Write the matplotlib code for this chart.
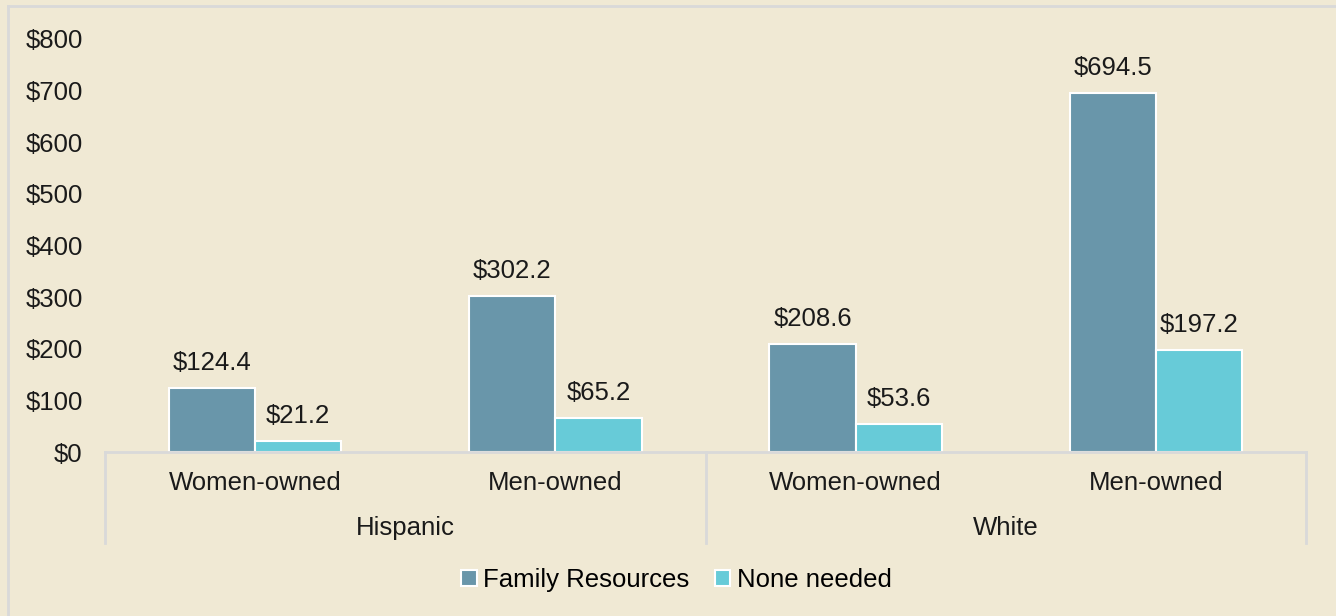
import matplotlib.pyplot as plt
from matplotlib.transforms import blended_transform_factory
from matplotlib.lines import Line2D
import numpy as np

plt.rcParams['font.family'] = ['Liberation Sans', 'DejaVu Sans']

# donnees
groupes = ['Hispanic', 'White']
sous_cat = ['Women-owned', 'Men-owned', 'Women-owned', 'Men-owned']
series = ['Family Resources', 'None needed']
family = [124.4, 302.2, 208.6, 694.5]
none_needed = [21.2, 65.2, 53.6, 197.2]
yticks = [0, 100, 200, 300, 400, 500, 600, 700, 800]

fond = '#F0E9D4'
couleurs = ['#6996AA', '#67CBD8']
gris = '#D9D9D9'
fs = 18.5

W, H = 1336, 616
fig = plt.figure(figsize=(W / 100, H / 100), dpi=100, facecolor=fond)
# cadre du graphique (gauche et haut)
fig.add_artist(Line2D([8 / W, 8 / W], [0, 1 - 6 / H], transform=fig.transFigure, color=gris, lw=2))
fig.add_artist(Line2D([8 / W, 1], [1 - 6 / H, 1 - 6 / H], transform=fig.transFigure, color=gris, lw=2))

x0, x1, y0, y1 = 105, 1306, 452, 39
ax = fig.add_axes([x0 / W, 1 - y0 / H, (x1 - x0) / W, (y0 - y1) / H])
ax.set_facecolor(fond)

x = np.arange(len(sous_cat))
w = 0.287
b1 = ax.bar(x - w / 2, family, w, color=couleurs[0], edgecolor='white', lw=1.5, label=series[0])
b2 = ax.bar(x + w / 2, none_needed, w, color=couleurs[1], edgecolor='white', lw=1.5, label=series[1])
for bars, vals in [(b1, family), (b2, none_needed)]:
    for r, v in zip(bars, vals):
        ax.annotate('${:.1f}'.format(v), (r.get_x() + r.get_width() / 2, v), xytext=(0, 13),
                    textcoords='offset points', ha='center', va='baseline', fontsize=fs, color='#1a1a1a')

ax.set_xlim(-0.5, len(sous_cat) - 0.5)
ax.set_ylim(0, 800)
ax.set_yticks(yticks)
ax.set_yticklabels(['${}'.format(t) for t in yticks], fontsize=fs, color='#1a1a1a')
ax.tick_params(axis='y', length=0, pad=16)
ax.set_xticks(x)
ax.set_xticklabels(sous_cat, fontsize=fs, color='#1a1a1a')
ax.tick_params(axis='x', length=0, pad=14)
for s in ['top', 'right', 'left']:
    ax.spines[s].set_visible(False)
ax.spines['bottom'].set_color(gris)
ax.spines['bottom'].set_linewidth(2)

# separateurs et groupes
tr = blended_transform_factory(ax.transData, ax.transAxes)
bas = -(543 - y0) / (y0 - y1)
for xs in [-0.5, 1.5, 3.5]:
    ax.plot([xs, xs], [0, bas], transform=tr, color=gris, lw=2, clip_on=False)
for i, g in enumerate(groupes):
    ax.text(2 * i + 0.5, -(528 - y0) / (y0 - y1), g, transform=tr, ha='center', va='center',
            fontsize=fs, color='#1a1a1a')

fig.legend(handles=[b1, b2], labels=series, loc='center', bbox_to_anchor=(676.5 / W, 1 - 580 / H),
           ncol=2, frameon=False, fontsize=fs, handlelength=0.6, handleheight=0.6,
           handletextpad=0.25, columnspacing=1.0)

plt.savefig('out.png', dpi=100, facecolor=fond)
